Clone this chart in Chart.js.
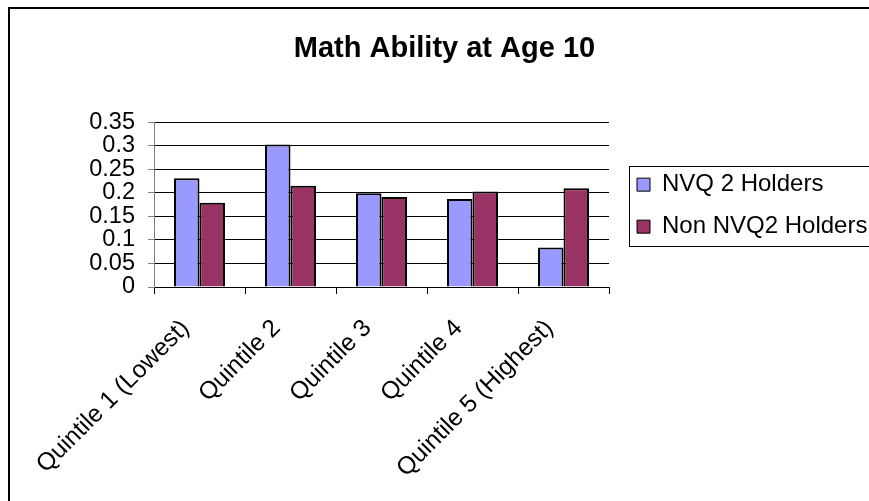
<!DOCTYPE html>
<html>
<head>
<meta charset="utf-8">
<title>Math Ability at Age 10</title>
<script src="https://cdn.jsdelivr.net/npm/chart.js@4.4.1/dist/chart.umd.min.js"></script>
<style>
  html, body { margin: 0; padding: 0; background: #fff; }
  canvas { display: block; }
</style>
</head>
<body>
<canvas id="chart" width="869" height="501"></canvas>
<script>
// Chart data
const categories = ['Quintile 1 (Lowest)', 'Quintile 2', 'Quintile 3', 'Quintile 4', 'Quintile 5 (Highest)'];
const seriesNames = ['NVQ 2 Holders', 'Non NVQ2 Holders'];
const nvq2Holders = [0.231, 0.303, 0.199, 0.187, 0.084];
const nonNvq2Holders = [0.179, 0.215, 0.191, 0.203, 0.210];
const yTickLabels = ['0', '0.05', '0.1', '0.15', '0.2', '0.25', '0.3', '0.35'];
const chartTitle = 'Math Ability at Age 10';

const FONT = '"Liberation Sans", Arial, Helvetica, sans-serif';
const LEGEND_WIDTH = 260;

// White page with the heavy frame along the left and top edges
const framePlugin = {
  id: 'frame',
  beforeDraw(chart) {
    const ctx = chart.ctx;
    ctx.save();
    ctx.fillStyle = '#ffffff';
    ctx.fillRect(0, 0, chart.width, chart.height);
    ctx.fillStyle = '#000000';
    ctx.fillRect(8, 7, 2, chart.height - 7);
    ctx.fillRect(8, 7, chart.width - 8, 2);
    ctx.restore();
  }
};

// Fixed legend width, a small gap from the plot, and a border round the legend
const legendBoxPlugin = {
  id: 'legendBox',
  beforeLayout(chart) {
    const lg = chart.legend;
    if (lg && !lg.__fixedWidth) {
      const fit = lg.fit;
      lg.fit = function () {
        fit.call(this);
        this.width = LEGEND_WIDTH;
      };
      lg.__fixedWidth = true;
    }
  },
  afterLayout(chart) {
    const lg = chart.legend;
    lg.left = chart.chartArea.right + 10;
    lg.right = lg.left + lg.width;
    lg.top += 1;
    lg.bottom += 1;
  },
  afterDraw(chart) {
    const lg = chart.legend;
    const hb = lg.legendHitBoxes;
    if (!hb || !hb.length) return;
    const last = hb[hb.length - 1];
    const top = Math.round(hb[0].top - 7) + 0.5;
    const bottom = Math.round(last.top + last.height + 7) + 0.5;
    const left = Math.round(chart.chartArea.right + 20) + 0.5;
    const ctx = chart.ctx;
    ctx.save();
    ctx.strokeStyle = '#000000';
    ctx.lineWidth = 1;
    ctx.strokeRect(left, top, chart.width - left + 10, bottom - top);
    ctx.restore();
  }
};

new Chart(document.getElementById('chart'), {
  type: 'bar',
  data: {
    labels: categories,
    datasets: [
      {
        label: seriesNames[0],
        data: nvq2Holders,
        backgroundColor: '#9999ff',
        borderColor: '#000000',
        borderWidth: 2
      },
      {
        label: seriesNames[1],
        data: nonNvq2Holders,
        backgroundColor: '#993366',
        borderColor: '#000000',
        borderWidth: 2
      }
    ]
  },
  options: {
    responsive: false,
    animation: false,
    devicePixelRatio: 1,
    layout: { padding: { left: 20, right: 0, top: 10, bottom: 0 } },
    datasets: {
      bar: { categoryPercentage: 0.56, barPercentage: 1.0 }
    },
    plugins: {
      title: {
        display: true,
        text: chartTitle,
        color: '#000000',
        font: { family: FONT, size: 29, weight: 'bold' },
        padding: { top: 22, bottom: 55.5 }
      },
      legend: {
        display: true,
        position: 'right',
        fullSize: false,
        align: 'center',
        labels: {
          color: '#000000',
          font: { family: FONT, size: 24 },
          boxWidth: 13,
          boxHeight: 13,
          padding: 18,
          generateLabels(chart) {
            const items = Chart.defaults.plugins.legend.labels.generateLabels(chart);
            items.forEach(item => { item.lineWidth = 1; item.strokeStyle = '#000000'; });
            return items;
          }
        }
      },
      tooltip: { enabled: false }
    },
    scales: {
      x: {
        afterFit(scale) { scale.height = 214; },
        grid: {
          display: true,
          drawOnChartArea: false,
          drawTicks: true,
          tickLength: 7,
          color: '#000000',
          offset: true
        },
        border: { display: true, color: '#000000', width: 1 },
        ticks: {
          color: '#000000',
          font: { family: FONT, size: 24.5 },
          minRotation: 45,
          maxRotation: 45,
          autoSkip: false,
          padding: 20,
          labelOffset: -14
        }
      },
      y: {
        min: 0,
        max: 0.35,
        afterFit(scale) { scale.width = 134; },
        grid: {
          color: '#000000',
          lineWidth: 1,
          drawTicks: true,
          tickLength: 6,
          tickColor: '#808080'
        },
        border: { display: true, color: '#808080', width: 1 },
        ticks: {
          stepSize: 0.05,
          autoSkip: false,
          color: '#000000',
          font: { family: FONT, size: 23.5 },
          padding: 13,
          callback: (value, index) => yTickLabels[index]
        }
      }
    }
  },
  plugins: [framePlugin, legendBoxPlugin]
});
</script>
</body>
</html>
